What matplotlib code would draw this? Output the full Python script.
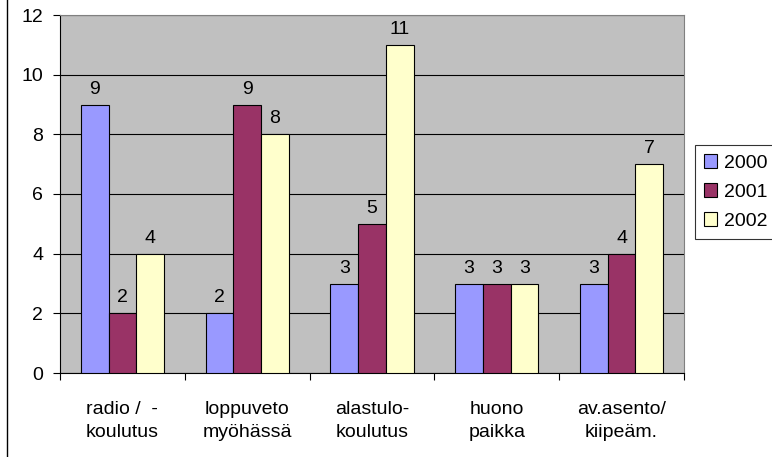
import matplotlib
matplotlib.use("Agg")
import matplotlib.pyplot as plt
import numpy as np

categories = ["radio /  -\nkoulutus", "loppuveto\nmyöhässä", "alastulo-\nkoulutus", "huono\npaikka", "av.asento/\nkiipeäm."]
series_names = ["2000", "2001", "2002"]
v2000 = [9, 2, 3, 3, 3]
v2001 = [2, 9, 5, 3, 4]
v2002 = [4, 8, 11, 3, 7]
colors = ["#9999FF", "#993366", "#FFFFCC"]

plt.rcParams['font.family'] = ['Liberation Sans', 'DejaVu Sans']
FS = 14

fig = plt.figure(figsize=(7.72, 4.57), dpi=100)
ax = fig.add_axes([60/772, 1-373/457, (684-60)/772, (373-15)/457])
ax.set_facecolor("#C0C0C0")

x = np.arange(len(categories))
w = 1/4.5
data = [v2000, v2001, v2002]
for i, (vals, c, name) in enumerate(zip(data, colors, series_names)):
    pos = x + (i-1)*w
    ax.bar(pos, vals, width=w, color=c, edgecolor="black", linewidth=0.8, label=name, zorder=3)
    for p, v in zip(pos, vals):
        ax.annotate(str(v), (p, v), xytext=(0, 5), textcoords="offset points",
                    ha="center", va="bottom", fontsize=FS)

ax.set_xlim(-0.5, len(categories)-0.5)
ax.set_ylim(0, 12)
ax.set_yticks(range(0, 13, 2))
ax.yaxis.grid(True, color="black", linewidth=0.8, zorder=0)
ax.set_axisbelow(True)
ax.set_xticks(np.arange(-0.5, len(categories), 1))
ax.set_xticklabels([])
ax.set_xticks(x, minor=True)
ax.set_xticklabels(categories, minor=True, fontsize=FS, linespacing=1.5)
ax.tick_params(axis="x", which="minor", length=0, pad=20)
ax.tick_params(axis="x", which="major", length=5, width=0.8, direction="out")
ax.tick_params(axis="y", length=5, width=0.8, labelsize=FS, pad=7)
for s in ["top", "right"]:
    ax.spines[s].set_color("#808080")
    ax.spines[s].set_linewidth(0.8)
for s in ["left", "bottom"]:
    ax.spines[s].set_color("black")
    ax.spines[s].set_linewidth(0.8)

leg = ax.legend(loc="center left", bbox_to_anchor=(695/772, 1-192/457), bbox_transform=fig.transFigure,
                fontsize=FS, frameon=True, fancybox=False, edgecolor="black",
                handlelength=0.7, handleheight=0.7, handletextpad=0.35, borderpad=0.45,
                labelspacing=0.6, borderaxespad=0)
leg.get_frame().set_linewidth(0.8)

fig.add_artist(plt.Line2D([7/772, 7/772], [0, 1], color="black", linewidth=1, transform=fig.transFigure))

fig.savefig("out.png", dpi=100)
